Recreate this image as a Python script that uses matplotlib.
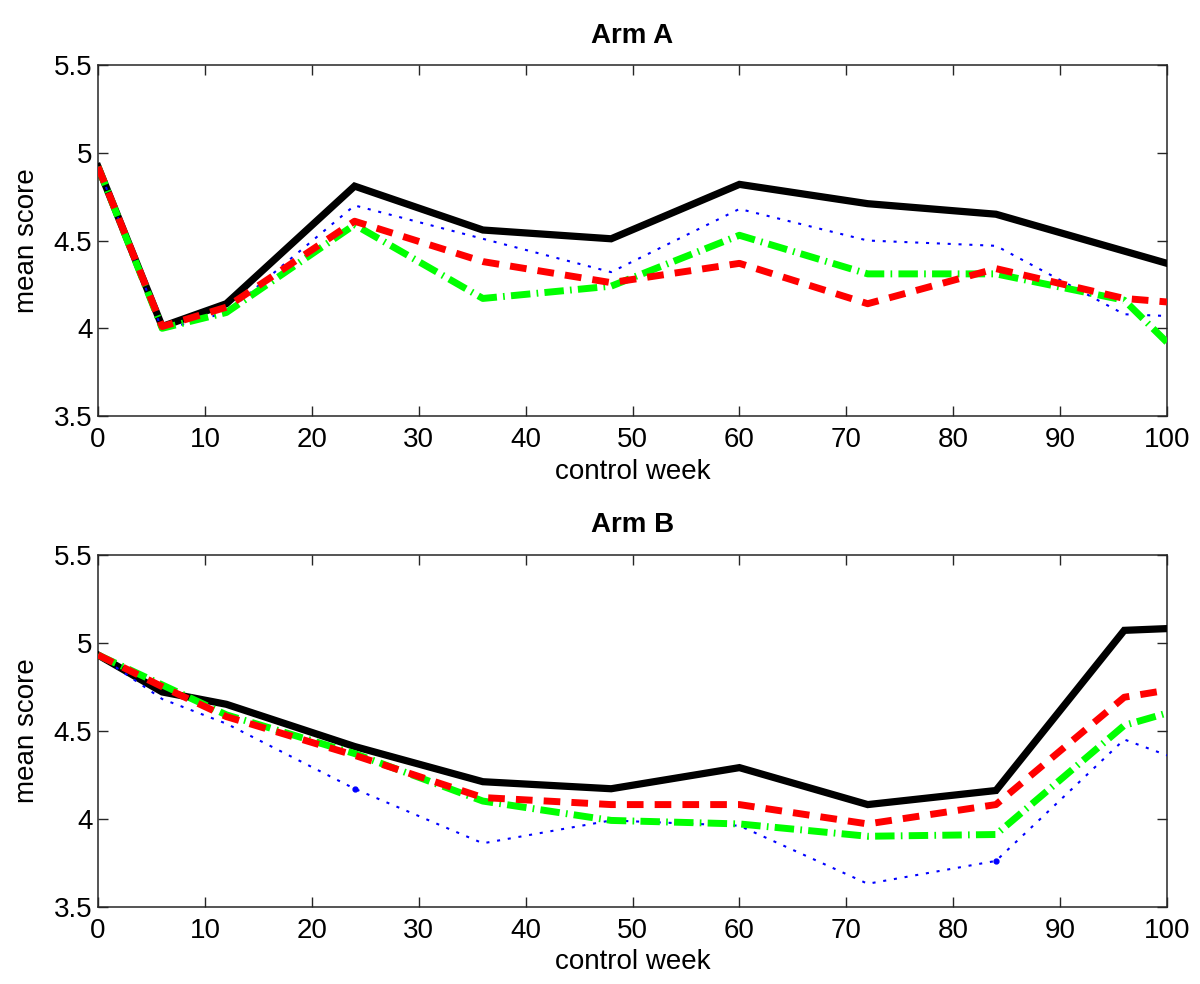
import matplotlib
matplotlib.use("Agg")
import matplotlib.pyplot as plt

plt.rcParams['font.family'] = ['Liberation Sans', 'DejaVu Sans']
plt.rcParams['lines.scale_dashes'] = False

weeks = [0, 6, 12, 24, 36, 48, 60, 72, 84, 96, 100]

# Arm A
a_black = [4.92, 4.01, 4.14, 4.81, 4.56, 4.51, 4.82, 4.71, 4.65, 4.44, 4.37]
a_blue  = [4.92, 3.99, 4.09, 4.70, 4.51, 4.32, 4.68, 4.50, 4.47, 4.08, 4.07]
a_red   = [4.92, 4.01, 4.12, 4.61, 4.38, 4.26, 4.37, 4.14, 4.34, 4.17, 4.15]
a_green = [4.92, 4.00, 4.09, 4.59, 4.17, 4.24, 4.53, 4.31, 4.31, 4.16, 3.92]

# Arm B
b_black = [4.93, 4.72, 4.65, 4.41, 4.21, 4.17, 4.29, 4.08, 4.16, 5.07, 5.08]
b_blue  = [4.93, 4.68, 4.54, 4.17, 3.86, 3.99, 3.96, 3.63, 3.76, 4.45, 4.36]
b_red   = [4.93, 4.75, 4.58, 4.36, 4.12, 4.08, 4.08, 3.97, 4.08, 4.69, 4.73]
b_green = [4.93, 4.76, 4.59, 4.37, 4.10, 3.99, 3.97, 3.90, 3.91, 4.53, 4.60]
b_blue_dot_idx = [3, 8]

titles = ["Arm A", "Arm B"]
xticks = [0, 10, 20, 30, 40, 50, 60, 70, 80, 90, 100]
yticks = [3.5, 4, 4.5, 5, 5.5]
yticklabels = ["3.5", "4", "4.5", "5", "5.5"]

FS = 20

fig = plt.figure(figsize=(12, 9.84), dpi=100)
L, W = 0.0817, 0.8908
ax1 = fig.add_axes([L, 0.5772, W, 0.3567])
ax2 = fig.add_axes([L, 0.0786, W, 0.3577])

data = [(a_black, a_blue, a_red, a_green), (b_black, b_blue, b_red, b_green)]
for ax, (k, b, r, g), t in zip([ax1, ax2], data, titles):
    ax.plot(weeks, k, color='black', lw=5.2, solid_joinstyle='miter', zorder=3)
    ax.plot(weeks, b, color='blue', lw=1.5, linestyle=(0, (2.2, 5.6)), zorder=4)
    ax.plot(weeks, g, color=(0, 1, 0), lw=5, linestyle=(0, (14, 4.5, 1.2, 4.5)),
            dash_capstyle='butt', zorder=5)
    ax.plot(weeks, r, color='red', lw=5, linestyle=(0, (12, 8)),
            dash_capstyle='butt', zorder=6)
    ax.set_xlim(0, 100)
    ax.set_ylim(3.5, 5.5)
    ax.set_xticks(xticks)
    ax.set_xticklabels([str(x) for x in xticks])
    ax.set_yticks(yticks)
    ax.set_yticklabels(yticklabels)
    ax.tick_params(direction='in', length=7, width=1, color='#262626',
                   top=True, right=True, labelsize=FS, pad=4)
    ax.tick_params(axis='x', pad=8)
    for s in ax.spines.values():
        s.set_color('#262626')
        s.set_linewidth(1.1)
    ax.set_title(t, fontsize=FS, fontweight='bold', pad=16)
    ax.set_xlabel("control week", fontsize=FS, labelpad=4)
    ax.set_ylabel("mean score", fontsize=FS, labelpad=10)

ax2.plot([weeks[i] for i in b_blue_dot_idx], [b_blue[i] for i in b_blue_dot_idx],
         linestyle='none', marker='o', markersize=3.5, color='blue', zorder=4)

fig.savefig("out.png", dpi=100)
